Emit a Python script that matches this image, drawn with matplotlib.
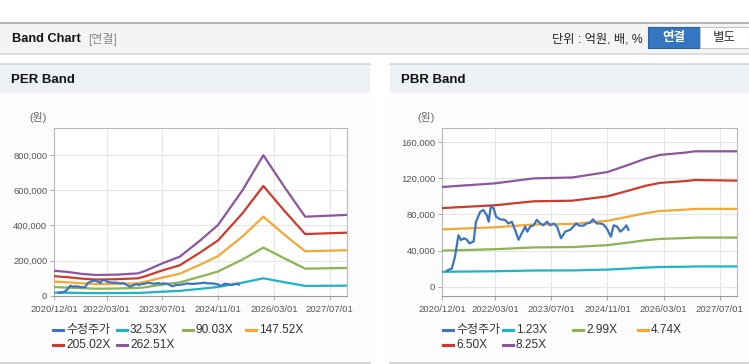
import matplotlib
matplotlib.use("Agg")
import matplotlib.pyplot as plt
from matplotlib.patches import Rectangle
from matplotlib.lines import Line2D

plt.rcParams["font.family"] = ["Liberation Sans", "Noto Sans CJK KR"]

W, H = 749, 364

# ---- data (months since 2020/12/01, values in won) ----
x_ticks = [0, 15, 31, 47, 63, 79]
x_labels = ["2020/12/01", "2022/03/01", "2023/07/01", "2024/11/01", "2026/03/01", "2027/07/01"]

price_m = [1.3, 1.7, 2.7, 3.6, 4.6, 5.3, 6.2, 7.0, 7.7, 8.9, 9.6, 10.8, 11.7, 12.7, 13.2,
           13.8, 14.6, 15.3, 16.5, 17.9, 18.8, 19.8, 20.7, 21.7, 22.6, 23.6, 24.2, 25.0,
           26.0, 26.9, 27.9, 28.8, 29.8, 30.7, 31.7, 32.7, 33.8, 35.0, 36.4, 37.3, 38.1,
           39.0, 40.2, 41.1, 42.0, 42.9, 44.0, 45.0, 45.9, 46.9, 48.0, 48.8, 49.8, 50.7,
           51.6, 52.4, 53.0]
price = [17500, 18500, 20000, 33000, 57000, 51700, 53600, 52000, 48000, 50000, 72000,
         83000, 85000, 79000, 72000, 88600, 87000, 77600, 74600, 74000, 70000, 72000,
         63000, 52000, 59000, 66500, 61000, 66500, 68000, 74000, 70000, 68000, 72000,
         68000, 70000, 66500, 53600, 61000, 63000, 66500, 70000, 67600, 67600, 70000,
         70700, 74600, 70000, 70000, 69000, 64000, 55400, 68000, 66500, 61000, 64000,
         68000, 63000]

per_m = [0, 4, 8, 12, 18, 24, 26, 31, 36, 42, 47, 54, 60, 66, 72, 78, 84]
per_labels = ["32.53X", "90.03X", "147.52X", "205.02X", "262.51X"]
per_3253 = [17600, 16700, 15400, 14600, 14900, 15700, 17500, 22800, 27500, 39300,
            49900, 74300, 99100, 76800, 55800, 56400, 57000]
per_9003 = [49000, 46000, 43000, 40000, 41000, 44000, 48000, 63000, 76000, 109000,
            138000, 206000, 274000, 213000, 154000, 156000, 158000]
per_14752 = [80000, 76000, 70000, 66000, 67000, 71000, 79000, 103000, 125000, 178000,
             226000, 337000, 450000, 348000, 253000, 256000, 259000]
per_20502 = [111000, 105000, 97000, 92000, 94000, 99000, 110000, 144000, 173000, 248000,
             315000, 469000, 625000, 484000, 351000, 355000, 359000]
per_26251 = [142000, 135000, 124000, 118000, 120000, 127000, 141000, 184000, 222000,
             317000, 403000, 600000, 800000, 620000, 450000, 455000, 460000]

pbr_m = [0, 15, 26, 37, 47, 53, 58, 62, 69, 72, 84]
pbr_labels = ["1.23X", "2.99X", "4.74X", "6.50X", "8.25X"]
pbr_123 = [16500, 17100, 17900, 18000, 18900, 20100, 21200, 21800, 22100, 22400, 22400]
pbr_299 = [40000, 41500, 43500, 43900, 46000, 48900, 51500, 52900, 53800, 54400, 54400]
pbr_474 = [63500, 65800, 68900, 69500, 73000, 77600, 81600, 83900, 85300, 86200, 86200]
pbr_650 = [87100, 90200, 94600, 95300, 100100, 106400, 111900, 115000, 117000, 118200, 117500]
pbr_825 = [110500, 114500, 120000, 121000, 127000, 135000, 142000, 146000, 148500, 150000, 150000]

colors = ["#3b74c0", "#1db3c9", "#8db352", "#f4a833", "#cf3a2c", "#8d55a0"]


def fx(px):
    return px / W


def fy(py):
    return 1 - py / H


def rect(fig, x0, y0, x1, y1, color, ec="none", lw=0, z=-5):
    fig.patches.append(Rectangle((fx(x0), fy(y1)), fx(x1) - fx(x0), fy(y0) - fy(y1),
                                 transform=fig.transFigure, facecolor=color,
                                 edgecolor=ec, linewidth=lw, zorder=z))


def hline(fig, x0, x1, y, color, lw=1.0):
    fig.add_artist(Line2D([fx(x0), fx(x1)], [fy(y), fy(y)], transform=fig.transFigure,
                          color=color, lw=lw, zorder=-4))


def panel(fig, x0, x1, title, box, xs, bands, labels, ylim, yticks, leg_x):
    rect(fig, x0, 64, x1, 93, "#edf1f6")
    hline(fig, x0, x1, 64, "#d4d4d4", 1.2)
    rect(fig, x0, 93, x1, 362, "#fcfcfc")
    hline(fig, x0, x1, 362.5, "#cfcfcf", 1.2)
    fig.text(fx(x0 + 11), fy(80), title, fontsize=9.5, fontweight="bold",
             color="#111111", va="center", ha="left")
    left, top, right, bottom = box
    fig.text(fx(left - 16), fy(118), "(원)", fontsize=7.8, color="#666666",
             va="center", ha="center")

    ax = fig.add_axes([fx(left), fy(bottom), fx(right) - fx(left), fy(top) - fy(bottom)])
    ax.set_facecolor("white")
    ax.plot(price_m, price, color=colors[0], lw=1.6, zorder=4)
    for i, b in enumerate(bands):
        ax.plot(xs, b, color=colors[i + 1], lw=1.6, zorder=3)
    ax.set_xlim(0, 84)
    ax.set_ylim(*ylim)
    ax.set_xticks(x_ticks)
    ax.set_xticklabels(x_labels)
    ax.set_yticks(yticks)
    ax.set_yticklabels([f"{v:,}" for v in yticks])
    ax.grid(True, color="#e6e6e6", lw=0.8)
    ax.set_axisbelow(True)
    for s in ["top", "right", "left"]:
        ax.spines[s].set_color("#b8b8b8")
        ax.spines[s].set_linewidth(0.8)
    ax.spines["bottom"].set_color("#999999")
    ax.spines["bottom"].set_linewidth(0.8)
    ax.tick_params(axis="both", labelsize=6.8, labelcolor="#555555", color="#999999",
                   length=3, width=0.6, pad=2)
    ax.tick_params(axis="x", pad=4)

    names = ["수정주가"] + labels
    for i, name in enumerate(names):
        row, col = divmod(i, 4)
        lx = leg_x[col]
        ly = 330 + row * 14.5
        fig.add_artist(Line2D([fx(lx), fx(lx + 10)], [fy(ly), fy(ly)],
                              transform=fig.transFigure, color=colors[i], lw=2.2))
        fig.text(fx(lx + 13), fy(ly), name, fontsize=8.6, color="#333333",
                 va="center", ha="left")
    return ax


fig = plt.figure(figsize=(W / 100, H / 100), dpi=100)
fig.patch.set_facecolor("white")

# top header bar
rect(fig, 0, 22, W, 53, "#f4f4f4")
hline(fig, 0, W, 22.5, "#aaaaaa", 1.2)
hline(fig, 0, W, 53.5, "#d6d6d6", 1.2)
fig.text(fx(12), fy(39), "Band Chart", fontsize=9.2, fontweight="bold", color="#111111",
         va="center", ha="left")
fig.text(fx(88), fy(39), "[연결]", fontsize=8.6, color="#888888", va="center", ha="left")
fig.text(fx(643), fy(39), "단위 : 억원, 배, %", fontsize=8.8, color="#222222",
         va="center", ha="right")
rect(fig, 648, 27, 700, 48, "#3477c0", ec="#2a64a8", lw=0.8, z=-3)
rect(fig, 700, 27, 749, 48, "#ffffff", ec="#c4c4c4", lw=0.8, z=-3)
fig.text(fx(674), fy(38), "연결", fontsize=9, fontweight="bold", color="white",
         va="center", ha="center")
fig.text(fx(724), fy(38), "별도", fontsize=9, color="#333333",
         va="center", ha="center")

panel(fig, 0, 370, "PER Band", (54.3, 128, 347, 295.7), per_m,
      [per_3253, per_9003, per_14752, per_20502, per_26251], per_labels,
      (0, 955000), [0, 200000, 400000, 600000, 800000], [53, 117, 183, 246])

panel(fig, 390, W, "PBR Band", (442.3, 128.3, 737.3, 295.7), pbr_m,
      [pbr_123, pbr_299, pbr_474, pbr_650, pbr_825], pbr_labels,
      (-10000, 175500), [0, 40000, 80000, 120000, 160000], [443, 503, 573, 638])

fig.savefig("out.png", dpi=100)
